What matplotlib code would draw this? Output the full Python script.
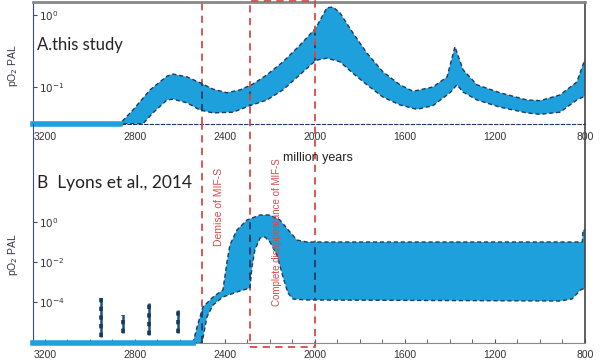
import numpy as np
import matplotlib
matplotlib.use("Agg")
import matplotlib.pyplot as plt
from matplotlib.patches import Rectangle

plt.rcParams['font.family'] = ['Liberation Sans', 'DejaVu Sans']

# === Daten (Alter in Ma, log10 pO2 PAL) ===
# A: this study
a_hi_years = [3253, 2867, 2809, 2733, 2658, 2631, 2569, 2511, 2453, 2391, 2333, 2276, 2213,
              2142, 2067, 1996, 1947, 1920, 1889, 1831, 1769, 1698, 1622, 1564, 1476, 1413,
              1378, 1342, 1280, 1178, 1058, 1000, 911, 836, 809, 800]
a_hi_log = [-1.51, -1.51, -1.32, -1.04, -0.85, -0.82, -0.86, -0.94, -1.03, -1.08, -1.04, -0.96,
            -0.83, -0.65, -0.42, -0.18, 0.10, 0.11, 0.03, -0.25, -0.53, -0.79, -0.97, -1.06,
            -1.00, -0.86, -0.44, -0.76, -0.97, -1.08, -1.18, -1.19, -1.11, -0.93, -0.69, -0.62]
a_lo_years = [3253, 2764, 2720, 2658, 2631, 2569, 2511, 2453, 2364, 2289, 2213, 2142, 2067,
              1996, 1947, 1889, 1831, 1769, 1698, 1622, 1547, 1476, 1400, 1369, 1342, 1280,
              1178, 1058, 1000, 911, 836, 809, 800]
a_lo_log = [-1.51, -1.51, -1.36, -1.18, -1.17, -1.22, -1.32, -1.36, -1.35, -1.26, -1.18, -1.04,
            -0.83, -0.63, -0.60, -0.65, -0.81, -0.97, -1.14, -1.25, -1.31, -1.26, -1.08, -0.97,
            -1.07, -1.18, -1.28, -1.36, -1.38, -1.35, -1.18, -1.14, -1.12]

# B: Lyons et al., 2014
b_hi_years = [3253, 2542, 2524, 2498, 2453, 2409, 2391, 2378, 2347, 2302, 2244, 2200, 2156,
              2111, 2080, 2036, 836, 812, 809, 800]
b_hi_log = [-6.05, -6.05, -5.25, -4.25, -3.75, -3.40, -2.00, -1.15, -0.40, 0.10, 0.35, 0.35,
            0.10, -0.50, -0.90, -1.00, -1.00, -1.00, -0.40, -0.40]
b_lo_years = [3253, 2502, 2480, 2453, 2409, 2347, 2289, 2280, 2267, 2244, 2222, 2200, 2169,
              2142, 2120, 2098, 2036, 911, 858, 820, 800]
b_lo_log = [-6.05, -6.05, -4.75, -4.15, -3.75, -3.50, -3.30, -2.25, -1.40, -0.80, -0.75, -1.00,
            -1.65, -2.75, -3.55, -3.85, -3.90, -3.95, -3.85, -3.40, -3.30]

# kurze Messungen (vertikale Striche)
sq_years = [2951, 2853, 2738, 2609]
sq_top_log = [-3.8, -4.65, -4.05, -4.4]
sq_bot_log = [-5.75, -5.55, -5.65, -5.55]

event_years = [2500, 2290, 2000]
xticks = [3200, 2800, 2400, 2000, 1600, 1200, 800]
a_yticks = [1, 0.1]
a_ylabels = [r'$10^{0}$', r'$10^{-1}$']
b_yticks = [1, 1e-2, 1e-4]
b_ylabels = [r'$10^{0}$', r'$10^{-2}$', r'$10^{-4}$']

blue = "#1ea0dc"
navy = "#203a5e"
red = "#d84a4a"
dash = (0, (4, 3))

fig = plt.figure(figsize=(6.02, 3.62), dpi=100)
W, H = 602, 362
axA = fig.add_axes([33 / W, 1 - 124 / H, 552 / W, 122 / H])
axB = fig.add_axes([33 / W, 1 - 343 / H, 552 / W, 219 / H])
axB.set_facecolor("none")


def band(ax, xh, yh, xl, yl):
    xh, yh = np.array(xh), 10 ** np.array(yh)
    xl, yl = np.array(xl), 10 ** np.array(yl)
    poly = ax.fill(np.r_[xh, xl[::-1]], np.r_[yh, yl[::-1]], color=blue, lw=0, zorder=2)[0]
    ax.plot(xh, yh, color=navy, lw=1, ls=(0, (3, 2)), zorder=3)
    ax.plot(xl, yl, color=navy, lw=1, ls=(0, (3, 2)), zorder=3)
    # Ereignislinien innerhalb des Bandes dunkel
    for ev in event_years:
        ln = ax.axvline(ev, color=navy, lw=1.3, ls=dash, zorder=4)
        ln.set_clip_path(poly)
    return poly


# --- Panel A ---
axA.set_yscale("log")
axA.set_xlim(3253, 800)
axA.set_ylim(10 ** -1.514, 10 ** 0.18)
band(axA, a_hi_years, a_hi_log, a_lo_years, a_lo_log)
axA.plot(a_hi_years[:2], 10 ** np.array(a_hi_log[:2]), color=blue, lw=4, zorder=3, clip_on=False)
axA.set_xticks(xticks, [str(t) for t in xticks])
axA.tick_params(axis="x", length=0, pad=6, labelsize=7.5, labelcolor="#333333")
axA.set_yticks(a_yticks, a_ylabels, ha="left")
axA.yaxis.set_minor_locator(matplotlib.ticker.NullLocator())
axA.tick_params(axis="y", which="both", direction="in", length=3, pad=-4,
                labelsize=7.5, labelcolor="#333344", color="#3a4a7a")
axA.spines["top"].set_color("#888888")
axA.spines["top"].set_linewidth(2)
axA.spines["left"].set_color("#3a4a7a")
axA.spines["right"].set_color("#444444")
axA.spines["right"].set_linewidth(1.2)
axA.spines["bottom"].set_color(navy)
axA.spines["bottom"].set_linestyle((0, (3, 2)))

# --- Panel B ---
axB.set_yscale("log")
axB.set_xlim(3253, 800)
axB.set_ylim(10 ** -6.05, 10 ** 4.9)
band(axB, b_hi_years, b_hi_log, b_lo_years, b_lo_log)
axB.plot(b_hi_years[:2], 10 ** np.array(b_hi_log[:2]), color=blue, lw=4, zorder=3, clip_on=False)
axB.vlines(sq_years, 10 ** np.array(sq_bot_log), 10 ** np.array(sq_top_log),
           colors="#1f4e79", lw=1.8, zorder=3)
axB.vlines(sq_years, 10 ** np.array(sq_bot_log), 10 ** np.array(sq_top_log),
           colors="#163a5c", lw=2.6, linestyles=(0, (1.2, 1.2)), zorder=3)
axB.set_xticks(xticks, [str(t) for t in xticks])
axB.xaxis.set_minor_locator(matplotlib.ticker.MultipleLocator(100))
axB.tick_params(axis="x", which="both", direction="in", length=3, pad=5,
                labelsize=7.5, labelcolor="#333333", color="#555555")
axB.set_yticks(b_yticks, b_ylabels, ha="left")
axB.yaxis.set_minor_locator(matplotlib.ticker.NullLocator())
axB.tick_params(axis="y", which="both", direction="in", length=3, pad=-4,
                labelsize=7.5, labelcolor="#333344", color="#3a4a7a")
axB.spines["top"].set_visible(False)
axB.spines["left"].set_color("#3a4a7a")
axB.spines["right"].set_color("#444444")
axB.spines["right"].set_linewidth(1.2)
axB.spines["bottom"].set_color("#888888")

# rote Linie "Demise of MIF-S" ueber beide Panels
axA.axvline(event_years[0], color=red, lw=1.3, ls=dash, zorder=1)
axB.axvline(event_years[0], ymin=0.05, color=red, lw=1.3, ls=dash, zorder=1)

# rotes Rechteck zwischen 2290 und 2000 Ma
top_frac = (343 - 1) / 219
axB.add_patch(Rectangle((event_years[1], -0.02), event_years[2] - event_years[1], top_frac + 0.02,
                        transform=axB.get_xaxis_transform(), fill=False, edgecolor=red,
                        lw=1.3, ls=dash, clip_on=False, zorder=1))

# Texte
fig.text(37 / W, 1 - 45 / H, "A.this study", fontsize=12, family=["Lato", "DejaVu Sans"],
         va="center", color="#222222")
fig.text(37 / W, 1 - 183 / H, "B  Lyons et al., 2014", fontsize=12.5,
         family=["Lato", "DejaVu Sans"], va="center", color="#222222")
fig.text(13 / W, 1 - 65 / H, r"pO$_2$ PAL", rotation=90, fontsize=7.5, ha="center", va="center",
         color="#333344")
fig.text(13 / W, 1 - 254 / H, r"pO$_2$ PAL", rotation=90, fontsize=7.5, ha="center", va="center",
         color="#333344")
fig.text(283 / W, 1 - 158 / H, "million years", fontsize=9, va="center", color="#222222")
fig.text(219 / W, 1 - 207 / H, "Demise of MIF-S", rotation=90, fontsize=7.5, ha="center",
         va="center", color=red)
fig.text(277 / W, 1 - 232 / H, "Complete disappearance of MIF-S", rotation=90, fontsize=7,
         ha="center", va="center", color=red)

fig.savefig("out.png", dpi=100)
